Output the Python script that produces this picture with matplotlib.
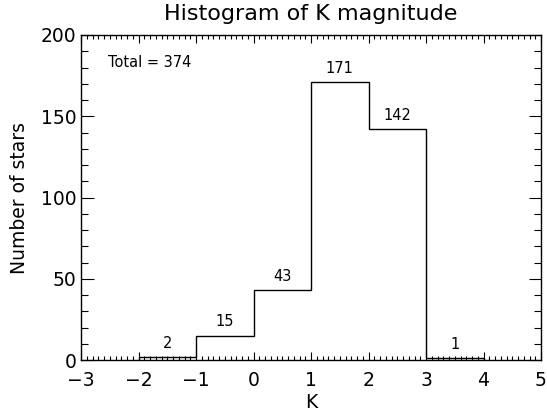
import numpy as np
import matplotlib.pyplot as plt
from matplotlib.ticker import MultipleLocator

edges = [-2, -1, 0, 1, 2, 3, 4]
counts = [2, 15, 43, 171, 142, 1]
total = 374

plt.rcParams['font.family'] = ['DejaVu Sans']
plt.rcParams['text.color'] = 'black'
plt.rcParams['axes.labelcolor'] = 'black'
plt.rcParams['xtick.color'] = 'black'
plt.rcParams['ytick.color'] = 'black'

fig = plt.figure(figsize=(5.47, 4.16), dpi=100)
ax = fig.add_axes([81/547, 56/416, 460/547, 325/416])

ax.stairs(counts, edges, color='black', lw=1.0, baseline=0)
for i in range(len(counts)):
	xc = (edges[i] + edges[i+1]) / 2.0
	ax.annotate(str(counts[i]), (xc, counts[i]), xytext=(0, 4.5), textcoords='offset points',
		ha='center', va='bottom', fontsize=10.5)

ax.text(0.059, 0.914, 'Total = %d' % total, transform=ax.transAxes, fontsize=10.5, va='center')

ax.set_xlim(-3, 5)
ax.set_ylim(0, 200)
ax.xaxis.set_major_locator(MultipleLocator(1))
ax.xaxis.set_minor_locator(MultipleLocator(0.1))
ax.yaxis.set_major_locator(MultipleLocator(50))
ax.yaxis.set_minor_locator(MultipleLocator(10))
ax.tick_params(which='both', direction='in', top=True, right=True, labelsize=13.5, width=0.8)
ax.tick_params(axis='y', which='major', length=9)
ax.tick_params(axis='y', which='minor', length=5)
ax.tick_params(axis='x', which='major', length=6)
ax.tick_params(axis='x', which='minor', length=3)
ax.tick_params(axis='x', pad=8)
for s in ax.spines.values():
	s.set_linewidth(1.0)

ax.set_xlabel('K', fontsize=13.5, labelpad=2)
ax.set_ylabel('Number of stars', fontsize=13.5, labelpad=8)
ax.set_title('Histogram of K magnitude', fontsize=16, pad=11)

plt.savefig('out.png')
